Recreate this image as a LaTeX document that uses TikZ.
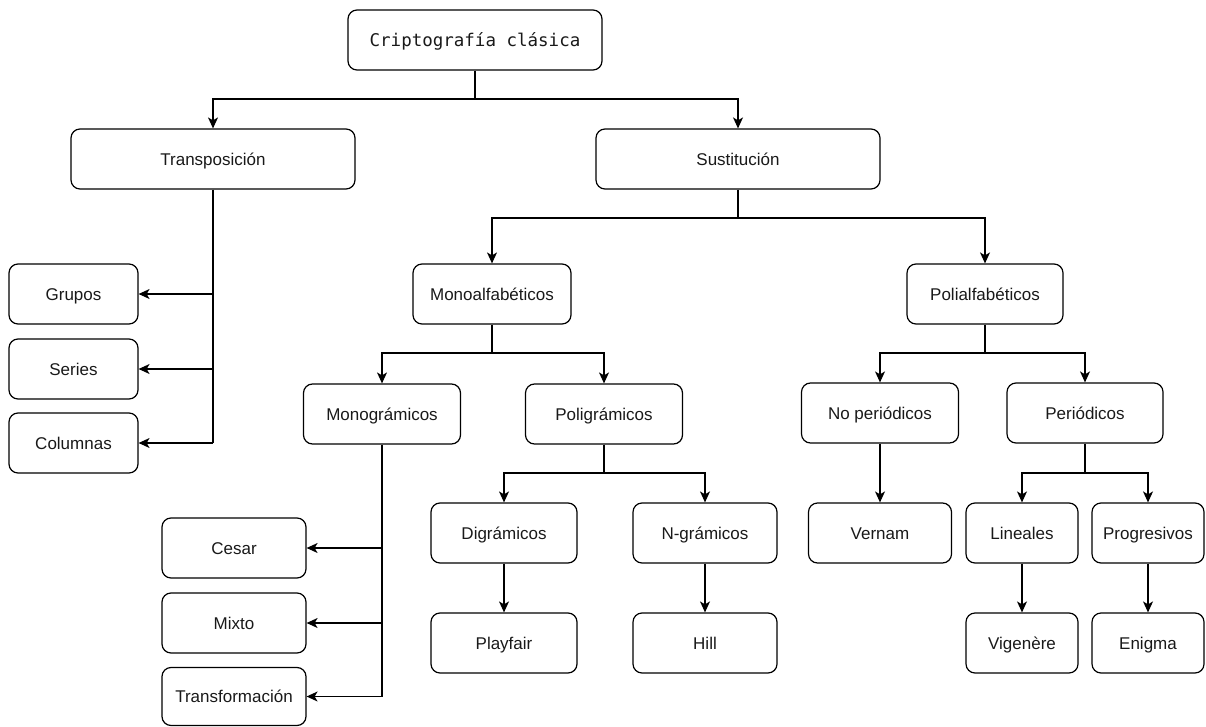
\documentclass[tikz,border=0pt]{standalone}
\usepackage{fontspec}
\setmainfont{Liberation Sans}
\newfontfamily\monofnt{DejaVu Sans Mono}
\usetikzlibrary{arrows.meta}
\tikzset{
  box/.style={draw, line width=1.2pt, rounded corners=9pt, minimum height=60pt, inner sep=0pt,
    text height=12.5pt, text depth=0pt,
    font=\fontsize{17}{19}\selectfont, text=black!90},
  arr/.style={line width=1.2pt, -{Stealth[length=11pt,width=10pt,inset=3pt]}},
  ln/.style={line width=1.2pt},
}
\begin{document}
\begin{tikzpicture}[x=1pt,y=-1pt]
\useasboundingbox (0,0) rectangle (1206,727);
% level 0
\node[box, minimum width=254pt, font=\monofnt\fontsize{17.5}{19}\selectfont] (root) at (475,40) {Criptografía clásica};
% level 1
\node[box, minimum width=284pt] (trans) at (213,159) {Transposición};
\node[box, minimum width=284pt] (sust) at (738,159) {Sustitución};
% transposition children
\node[box, minimum width=129pt] (grupos) at (73.5,294) {Grupos};
\node[box, minimum width=129pt] (series) at (73.5,369) {Series};
\node[box, minimum width=129pt] (columnas) at (73.5,443) {Columnas};
% substitution children
\node[box, minimum width=158pt] (mono) at (492,294) {Monoalfabéticos};
\node[box, minimum width=156pt] (poli) at (985,294) {Polialfabéticos};
\node[box, minimum width=157pt] (monog) at (382,414) {Monográmicos};
\node[box, minimum width=157pt] (polig) at (604,414) {Poligrámicos};
\node[box, minimum width=157pt] (noper) at (880,413) {No periódicos};
\node[box, minimum width=156pt] (per) at (1085,413) {Periódicos};
% monogramicos children
\node[box, minimum width=144pt] (cesar) at (234,548) {Cesar};
\node[box, minimum width=144pt] (mixto) at (234,623) {Mixto};
\node[box, minimum width=144pt, minimum height=58pt] (transf) at (234,696.5) {Transformación};
% poligramicos children
\node[box, minimum width=146pt] (digr) at (504,533) {Digrámicos};
\node[box, minimum width=144pt] (ngr) at (705,533) {N-grámicos};
\node[box, minimum width=146pt] (playfair) at (504,643) {Playfair};
\node[box, minimum width=144pt] (hill) at (705,643) {Hill};
% polialfabeticos children
\node[box, minimum width=143pt] (vernam) at (880,533) {Vernam};
\node[box, minimum width=112pt] (lineales) at (1022,533) {Lineales};
\node[box, minimum width=112pt] (progr) at (1148,533) {Progresivos};
\node[box, minimum width=112pt] (vigenere) at (1022,643) {Vigenère};
\node[box, minimum width=112pt] (enigma) at (1148,643) {Enigma};
% junctions
\coordinate (j0) at (475,99);
\coordinate (j1) at (738,218);
\coordinate (j2) at (492,353);
\coordinate (j3) at (985,353);
\coordinate (j4) at (604,473);
\coordinate (j5) at (1085,473);
% connectors
\draw[ln] (root.south) -- (j0);
\draw[arr] (j0) -| (trans.north);
\draw[arr] (j0) -| (sust.north);
\draw[ln] (trans.south) -- (trans.south |- columnas.east);
\draw[arr] (trans.south |- grupos.east) -- (grupos.east);
\draw[arr] (trans.south |- series.east) -- (series.east);
\draw[arr] (trans.south |- columnas.east) -- (columnas.east);
\draw[ln] (sust.south) -- (j1);
\draw[arr] (j1) -| (mono.north);
\draw[arr] (j1) -| (poli.north);
\draw[ln] (mono.south) -- (j2);
\draw[arr] (j2) -| (monog.north);
\draw[arr] (j2) -| (polig.north);
\draw[ln] (poli.south) -- (j3);
\draw[arr] (j3) -| (noper.north);
\draw[arr] (j3) -| (per.north);
\draw[ln] (monog.south) -- (monog.south |- transf.east);
\draw[arr] (monog.south |- cesar.east) -- (cesar.east);
\draw[arr] (monog.south |- mixto.east) -- (mixto.east);
\draw[arr] (monog.south |- transf.east) -- (transf.east);
\draw[ln] (polig.south) -- (j4);
\draw[arr] (j4) -| (digr.north);
\draw[arr] (j4) -| (ngr.north);
\draw[arr] (digr.south) -- (playfair.north);
\draw[arr] (ngr.south) -- (hill.north);
\draw[arr] (noper.south) -- (vernam.north);
\draw[ln] (per.south) -- (j5);
\draw[arr] (j5) -| (lineales.north);
\draw[arr] (j5) -| (progr.north);
\draw[arr] (lineales.south) -- (vigenere.north);
\draw[arr] (progr.south) -- (enigma.north);
\end{tikzpicture}
\end{document}
